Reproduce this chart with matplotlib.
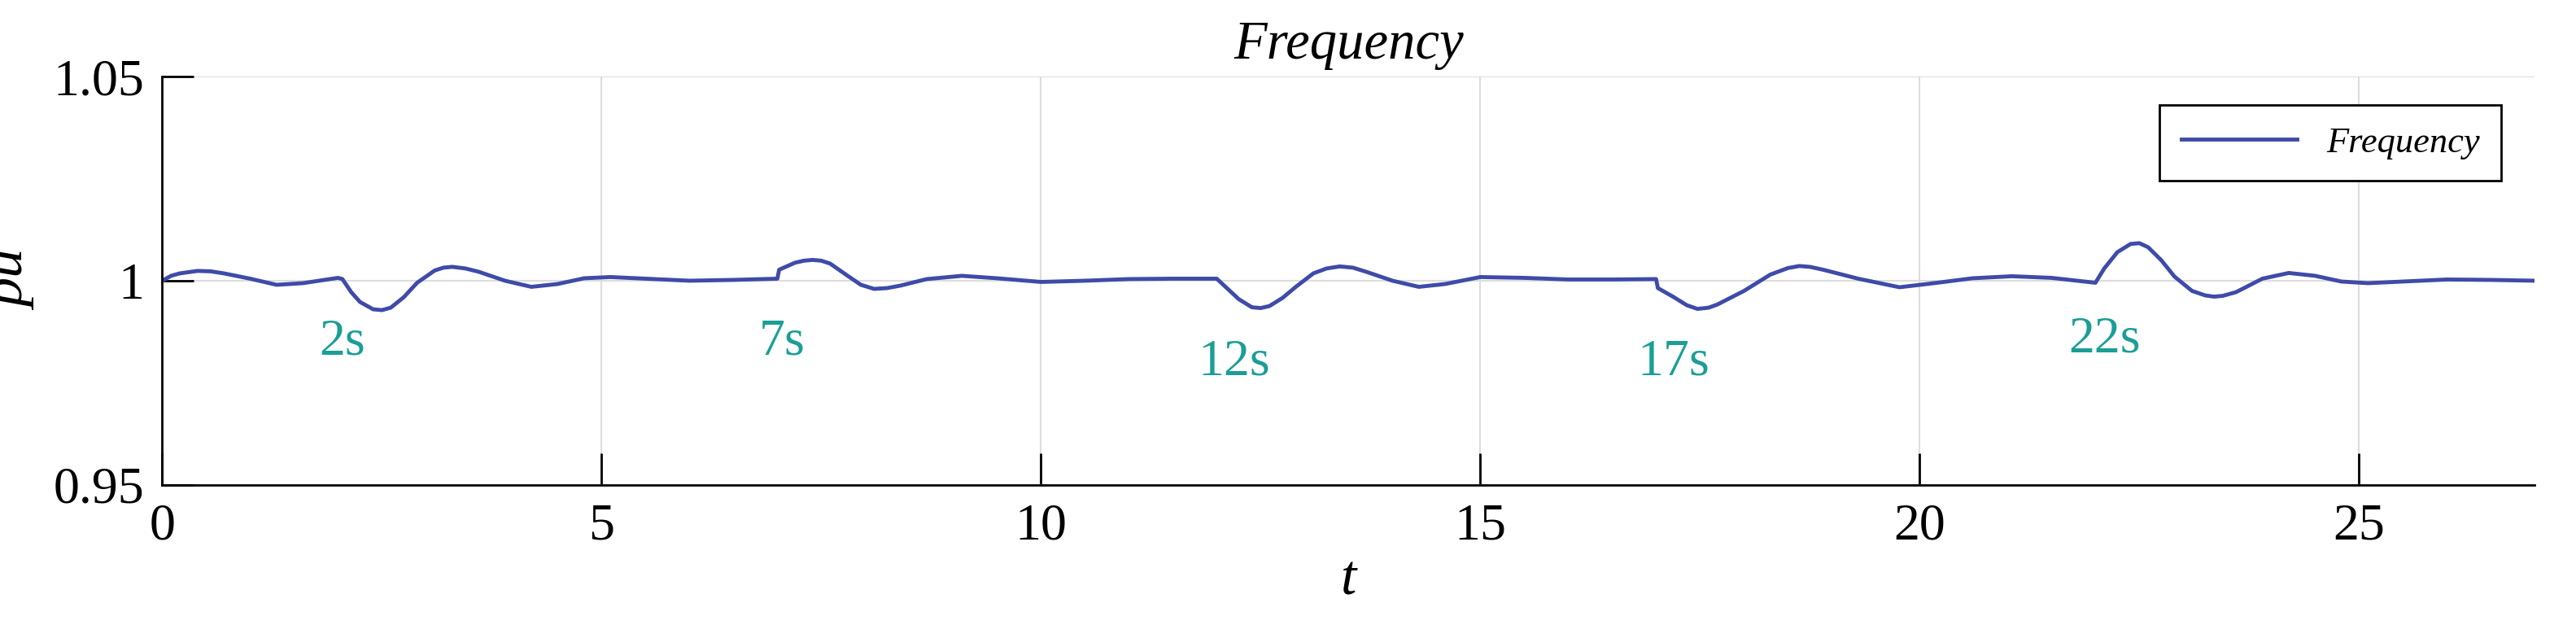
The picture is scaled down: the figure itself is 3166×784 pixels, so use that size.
import matplotlib
matplotlib.use("Agg")
import matplotlib.pyplot as plt
import numpy as np

t = [0, 0.1, 0.2, 0.4, 0.55, 0.7, 1.0, 1.3, 1.6, 2.0, 2.05, 2.15, 2.25, 2.4, 2.5, 2.6, 2.75, 2.9, 3.1, 3.2, 3.3, 3.45,
     3.6, 3.9, 4.2, 4.5, 4.8, 5.1, 5.5, 6.0, 6.5, 7.0, 7.02, 7.2, 7.3, 7.4, 7.5, 7.6, 7.8, 7.95, 8.1, 8.25, 8.4, 8.7,
     9.1, 9.5, 10.0, 10.5, 11.0, 11.5, 12.0, 12.1, 12.25, 12.4, 12.5, 12.6, 12.75, 12.9, 13.1, 13.25, 13.4, 13.55,
     13.7, 14.0, 14.3, 14.6, 15.0, 15.5, 16.0, 16.5, 17.0, 17.02, 17.2, 17.35, 17.47, 17.6, 17.7, 18.0, 18.3, 18.5,
     18.63, 18.75, 18.9, 19.3, 19.77, 20.2, 20.6, 21.05, 21.5, 22.0, 22.1, 22.25, 22.4, 22.5, 22.6, 22.75, 22.9,
     23.1, 23.25, 23.35, 23.45, 23.6, 23.9, 24.2, 24.5, 24.8, 25.1, 25.5, 26.0, 26.5, 27.0]
dev_e4 = [0, 12, 18, 24, 23, 18, 5, -10, -6, 7, 4, -28, -52, -70, -72, -66, -40, -5, 25, 32, 34, 30,
          22, 0, -15, -8, 6, 9, 5, 0, 2, 5, 27, 44, 49, 51, 49, 42, 12, -10, -20, -18, -12, 4,
          12, 6, -3, 0, 4, 5, 5, -15, -45, -65, -67, -62, -42, -15, 18, 30, 35, 32,
          22, 0, -15, -8, 9, 7, 3, 3, 4, -18, -40, -60, -69, -66, -58, -25, 15, 31,
          36, 34, 27, 5, -16, -5, 6, 11, 7, -5, 30, 70, 90, 92, 82, 50, 10,
          -25, -36, -39, -37, -28, 5, 19, 12, -2, -6, -2, 3, 2, 0]
freq = [1 + d * 1e-4 for d in dev_e4]

ann_text = ["2s", "7s", "12s", "17s", "22s"]
ann_t = [2.05, 7.05, 12.2, 17.2, 22.1]
ann_y = [0.985, 0.985, 0.980, 0.980, 0.9855]

plt.rcParams['font.family'] = ['Liberation Serif', 'DejaVu Serif']
fig = plt.figure(figsize=(31.66, 7.84), dpi=100)
ax = fig.add_axes([0.063, 0.24, 0.921, 0.64])
ax.plot(t, freq, color='#3F4BA8', lw=3.5, label='Frequency')
for s, x, y in zip(ann_text, ann_t, ann_y):
    ax.text(x, y, s, color='#1A9E96', fontsize=46, ha='center', va='center')
ax.set_xlim(0, 27)
ax.set_ylim(0.95, 1.05)
ax.set_xticks([0, 5, 10, 15, 20, 25])
ax.set_yticks([0.95, 1.0, 1.05])
ax.set_yticklabels(['0.95', '1', '1.05'])
ax.grid(True, color='#DDDDDD', lw=1.5)
ax.spines['top'].set_visible(False)
ax.spines['right'].set_visible(False)
ax.spines['left'].set_linewidth(2)
ax.spines['bottom'].set_linewidth(2)
ax.tick_params(direction='in', length=28, width=2, labelsize=46, pad=16)
ax.set_title('Frequency', fontsize=48, style='italic', pad=16)
ax.set_xlabel('t', fontsize=50, style='italic', labelpad=4)
ax.set_ylabel('pu', fontsize=52, style='italic', labelpad=14)
leg = ax.legend(loc='upper right', bbox_to_anchor=(0.9935, 0.975),
                prop={'style': 'italic', 'size': 32}, fancybox=False, framealpha=1,
                edgecolor='black', handlelength=3.2, borderpad=0.6)
leg.get_frame().set_linewidth(2)
fig.savefig('out.png', dpi=100)
